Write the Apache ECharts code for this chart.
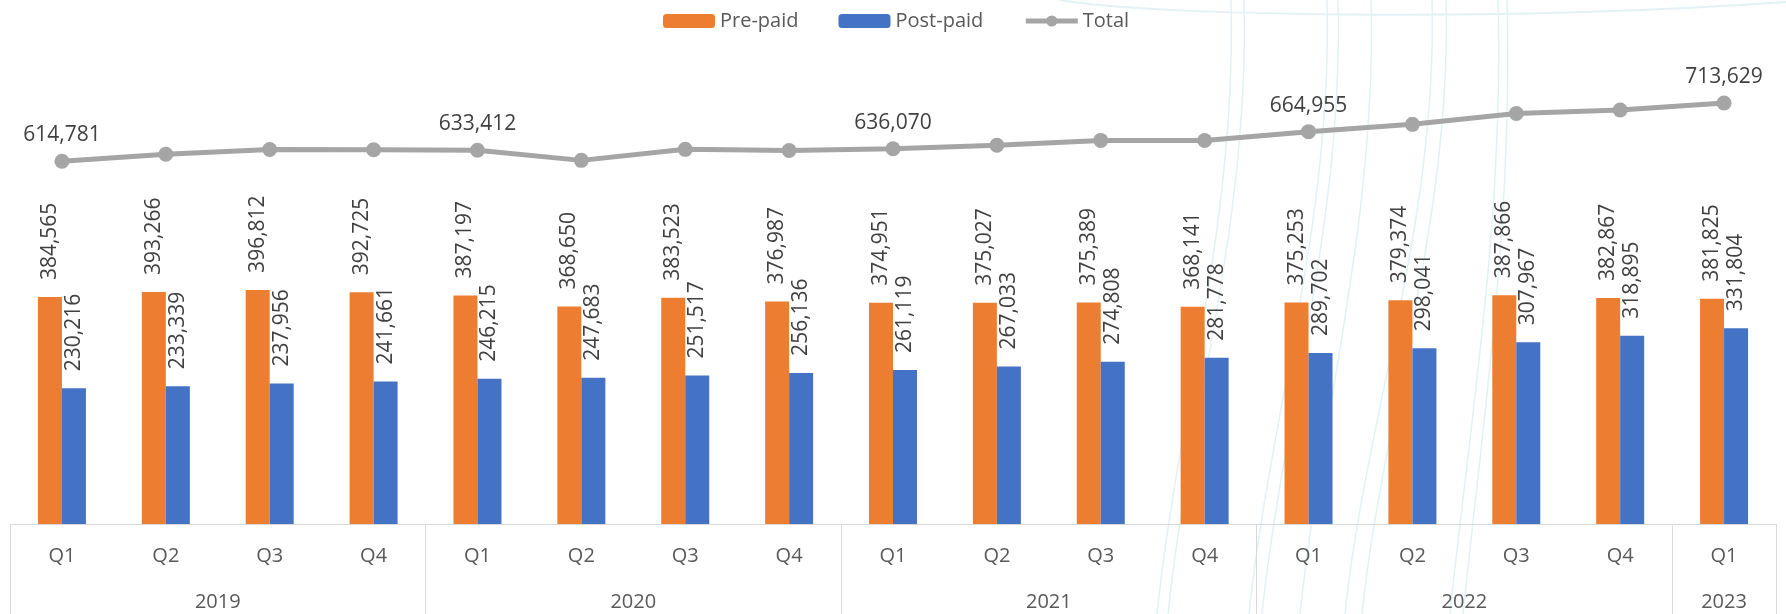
<!DOCTYPE html>
<html>
<head>
<meta charset="utf-8">
<script src="https://cdn.jsdelivr.net/npm/echarts@6/dist/echarts.min.js"></script>
<style>
html, body { margin: 0; padding: 0; background: #fff; }
#chart { width: 1786px; height: 614px; }
</style>
</head>
<body>
<div id="chart"></div>
<script>
var quarters = ['Q1', 'Q2', 'Q3', 'Q4', 'Q1', 'Q2', 'Q3', 'Q4', 'Q1', 'Q2', 'Q3', 'Q4', 'Q1', 'Q2', 'Q3', 'Q4', 'Q1'];
var years = ['2019', '2020', '2021', '2022', '2023'];
var quartersPerYear = [4, 4, 4, 4, 1];
var prePaid = [384565, 393266, 396812, 392725, 387197, 368650, 383523, 376987, 374951, 375027, 375389, 368141, 375253, 379374, 387866, 382867, 381825];
var postPaid = [230216, 233339, 237956, 241661, 246215, 247683, 251517, 256136, 261119, 267033, 274808, 281778, 289702, 298041, 307967, 318895, 331804];
var total = [614781, 626605, 634768, 634386, 633412, 616333, 635040, 633123, 636070, 642060, 650197, 649919, 664955, 677415, 695833, 701762, 713629];
var totalLabelAt = [0, 4, 8, 12, 16];

// year row: one point per half quarter, year name at the middle of its group
var yearAxis = [];
for (var k = 0; k <= quarters.length * 2; k++) yearAxis.push('');
var yearSeps = [];
var start = 0;
years.forEach(function (y, i) {
	yearSeps.push(start * 2);
	yearAxis[start * 2 + quartersPerYear[i]] = y;
	start += quartersPerYear[i];
});
yearSeps.push(start * 2);

function fmt(v) { return Number(v).toLocaleString('en-US'); }

var font = '"Open Sans", sans-serif';
var gridLine = '#d9d9d9';

// faint background swirl (decoration only)
var swirls = [[1231, 1157], [1244, 1168], [1327, 1249], [1338, 1262], [1371, 1300], [1432, 1345], [1446, 1362], [1498, 1450], [1507, 1463]];
var deco = swirls.map(function (s) {
	return {
		type: 'bezierCurve', silent: true, z: -10,
		shape: { x1: s[0], y1: 0, cpx1: s[0] + 6, cpy1: 220, cpx2: s[1] + 20, cpy2: 420, x2: s[1], y2: 614 },
		style: { stroke: '#e2f2f4', lineWidth: 1.5, fill: null }
	};
});
deco.push({
	type: 'bezierCurve', silent: true, z: -10,
	shape: { x1: 1060, y1: 0, cpx1: 1150, cpy1: 16, cpx2: 1500, cpy2: 22, x2: 1786, y2: 2 },
	style: { stroke: '#e2f2f4', lineWidth: 2, fill: null }
});

var barLabel = {
	show: true,
	position: 'top',
	rotate: 90,
	align: 'left',
	verticalAlign: 'middle',
	distance: 17,
	fontFamily: font,
	fontSize: 21,
	color: '#404040',
	formatter: function (p) { return fmt(p.value); }
};

var chart = echarts.init(document.getElementById('chart'));
chart.setOption({
	animation: false,
	textStyle: { fontFamily: font },
	graphic: deco,
	grid: { left: 10, right: 10, top: 52, bottom: 90 },
	legend: {
		top: 6,
		left: 658,
		itemWidth: 52,
		itemHeight: 14,
		itemGap: 40,
		textStyle: { fontFamily: font, fontSize: 20, color: '#595959' },
		data: ['Pre-paid', 'Post-paid', { name: 'Total', lineStyle: { width: 5 } }]
	},
	xAxis: [{
		type: 'category',
		data: quarters,
		position: 'bottom',
		axisLine: { show: true, lineStyle: { color: gridLine, width: 1 } },
		axisTick: { show: false },
		axisLabel: { interval: 0, margin: 22, fontFamily: font, fontSize: 20, color: '#595959' }
	}, {
		type: 'category',
		data: yearAxis,
		position: 'bottom',
		boundaryGap: false,
		axisLine: { show: false },
		axisTick: {
			show: true,
			length: 95,
			interval: function (index) { return yearSeps.indexOf(index) >= 0; },
			lineStyle: { color: gridLine, width: 1 }
		},
		axisLabel: { interval: 0, margin: 68, fontFamily: font, fontSize: 20, color: '#595959' }
	}],
	yAxis: {
		type: 'value',
		min: 0,
		max: 800000,
		show: false,
		splitLine: { show: false }
	},
	series: [{
		name: 'Pre-paid',
		type: 'bar',
		data: prePaid,
		barWidth: 24,
		barGap: '0%',
		itemStyle: { color: '#ED7D31' },
		label: barLabel
	}, {
		name: 'Post-paid',
		type: 'bar',
		data: postPaid,
		barWidth: 24,
		barGap: '0%',
		itemStyle: { color: '#4472C4' },
		label: barLabel
	}, {
		name: 'Total',
		type: 'line',
		data: total.map(function (v, i) {
			return { value: v, label: { show: totalLabelAt.indexOf(i) >= 0 } };
		}),
		symbol: 'circle',
		symbolSize: 15,
		z: 5,
		itemStyle: { color: '#A5A5A5' },
		lineStyle: { color: '#A5A5A5', width: 5 },
		label: {
			position: 'top',
			distance: 8,
			fontFamily: font,
			fontSize: 21,
			color: '#404040',
			formatter: function (p) { return fmt(p.value); }
		}
	}]
});
</script>
</body>
</html>
